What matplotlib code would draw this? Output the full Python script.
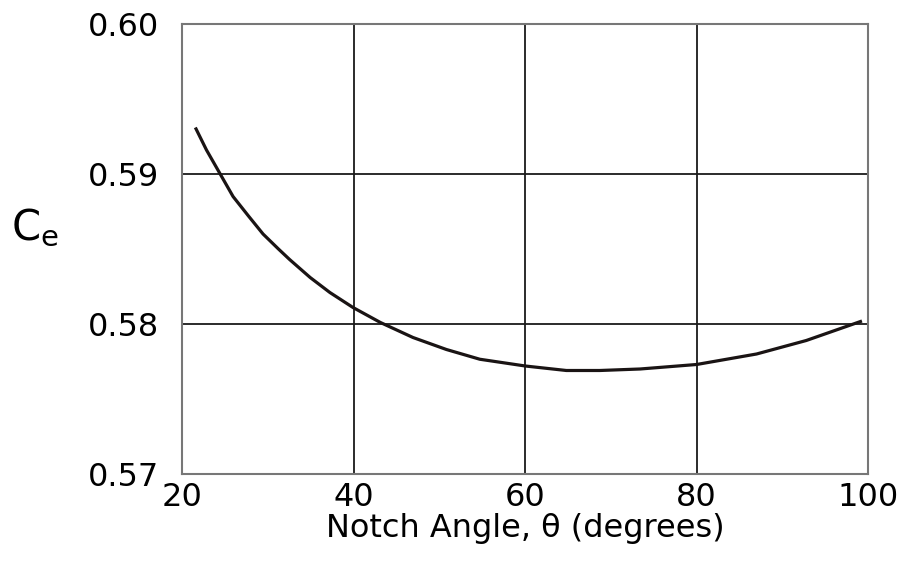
import matplotlib
matplotlib.use("Agg")
import matplotlib.pyplot as plt

# values
notch_angle = [21.5, 22.8, 24.4, 25.9, 27.7, 29.4, 31.2, 32.5, 34.9, 37.2, 39.9, 43.1,
               46.9, 50.8, 54.7, 60.0, 64.8, 68.7, 73.4, 80.0, 87.0, 92.8, 99.3]
ce = [0.5931, 0.5916, 0.5900, 0.5885, 0.5872, 0.5860, 0.5850, 0.5843, 0.5831, 0.5821, 0.5811, 0.5801,
      0.5791, 0.5783, 0.57765, 0.5772, 0.5769, 0.5769, 0.5770, 0.5773, 0.5780, 0.5789, 0.5802]

x_ticks = [20, 40, 60, 80, 100]
y_ticks = [0.57, 0.58, 0.59, 0.60]
y_tick_labels = ["0.57", "0.58", "0.59", "0.60"]

fig = plt.figure(figsize=(9.03, 5.61), dpi=100)
ax = fig.add_axes([0.2021, 0.1551, 0.7591, 0.8021])

ax.plot(notch_angle, ce, color="#1a1414", lw=2.3, solid_capstyle="butt")

ax.set_xlim(20, 100)
ax.set_ylim(0.57, 0.60)
ax.set_xticks(x_ticks)
ax.set_yticks(y_ticks)
ax.set_yticklabels(y_tick_labels)
ax.tick_params(length=0, labelsize=23)
ax.tick_params(axis="x", pad=6)
ax.tick_params(axis="y", pad=17)
ax.grid(True, color="#1a1a1a", lw=1.3)
ax.set_axisbelow(True)
for s in ax.spines.values():
    s.set_color("#777777")
    s.set_linewidth(1.5)

ax.set_xlabel("Notch Angle, \u03b8 (degrees)", fontsize=23, labelpad=0)
ax.set_ylabel("C$_{\\mathregular{e}}$", fontsize=30, rotation=0)
ax.yaxis.set_label_coords(-0.215, 0.5)

fig.savefig("out.png", dpi=100)
